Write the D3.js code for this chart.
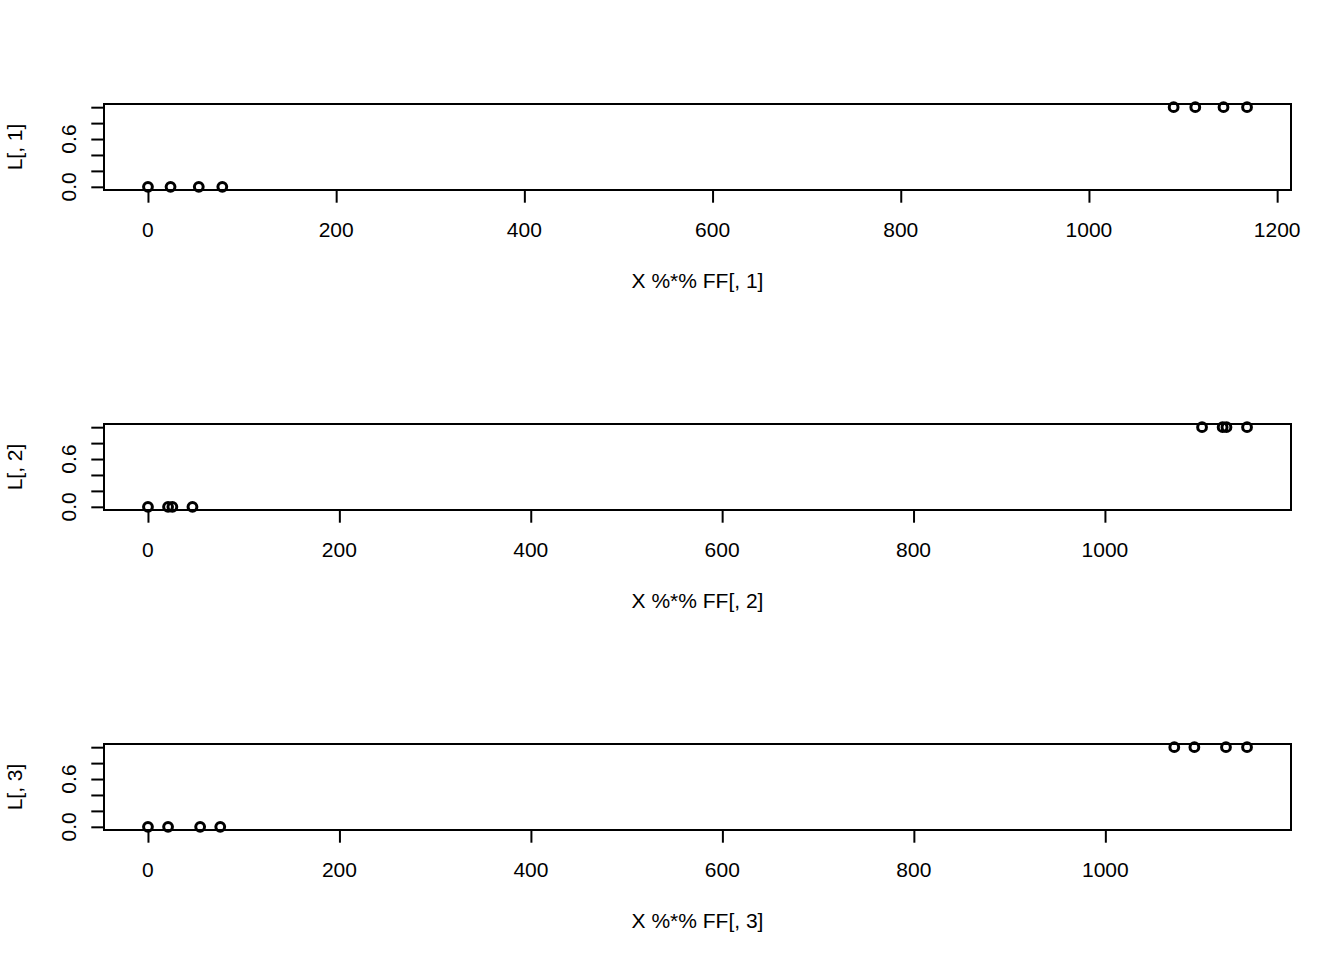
<!DOCTYPE html>
<html>
<head>
<meta charset="utf-8">
<script src="https://cdn.jsdelivr.net/npm/d3@7"></script>
<style>
	body { margin: 0; background: #fff; }
	svg text { font-family: "Liberation Sans", Arial, Helvetica, sans-serif; font-size: 21px; fill: #000; }
</style>
</head>
<body>
<svg id="chart" width="1344" height="960"></svg>
<script>
"use strict";

// x values of the three panels (X %*% FF[, k]) and the 0/1 labels L[, k]
var xv1 = [0, 24, 54, 79, 1090, 1113, 1143, 1168];
var xv2 = [0, 21, 25.5, 46.5, 1101.5, 1123, 1127, 1148.5];
var xv3 = [0, 21, 54.5, 75.5, 1072, 1093, 1126, 1148];
var lv1 = [0, 0, 0, 0, 1, 1, 1, 1];
var lv2 = [0, 0, 0, 0, 1, 1, 1, 1];
var lv3 = [0, 0, 0, 0, 1, 1, 1, 1];

var xticks1 = [0, 200, 400, 600, 800, 1000, 1200];
var xticks2 = [0, 200, 400, 600, 800, 1000];
var xticks3 = [0, 200, 400, 600, 800, 1000];
var yticks = [0, 0.2, 0.4, 0.6, 0.8, 1.0];
var ylabelsShown = ["0.0", "0.6"];

var xlabs = ["X %*% FF[, 1]", "X %*% FF[, 2]", "X %*% FF[, 3]"];
var ylabs = ["L[, 1]", "L[, 2]", "L[, 3]"];

var panels = [
	{ x: xv1, y: lv1, ticks: xticks1 },
	{ x: xv2, y: lv2, ticks: xticks2 },
	{ x: xv3, y: lv3, ticks: xticks3 }
];

var W = 1344, figH = 320;
var mar = { top: 104, right: 53, bottom: 130, left: 104 };
var tick = 12.7;

var svg = d3.select("#chart");

// R style 4% range extension
function rExtend(ext) {
	var r = ext[1] - ext[0];
	return [ext[0] - 0.04 * r, ext[1] + 0.04 * r];
}

function drawPanel(p, i) {
	var g = svg.append("g").attr("transform", "translate(0," + (i * figH) + ")");
	var x0 = mar.left, x1 = W - mar.right;
	var y0 = mar.top, y1 = figH - mar.bottom;

	var x = d3.scaleLinear().domain(rExtend(d3.extent(p.x))).range([x0, x1]);
	var y = d3.scaleLinear().domain(rExtend([0, 1])).range([y1, y0]);

	// box
	g.append("rect")
		.attr("x", x0).attr("y", y0)
		.attr("width", x1 - x0).attr("height", y1 - y0)
		.attr("fill", "none").attr("stroke", "#000").attr("stroke-width", 2);

	// x axis
	var xa = d3.axisBottom(x).tickValues(p.ticks).tickSize(tick).tickPadding(0).tickFormat("");
	var gx = g.append("g").attr("transform", "translate(0," + y1 + ")").call(xa);
	gx.select(".domain").remove();
	gx.selectAll(".tick line").attr("stroke", "#000").attr("stroke-width", 2);
	gx.append("line")
		.attr("x1", x(p.ticks[0])).attr("x2", x(p.ticks[p.ticks.length - 1]))
		.attr("y1", 0).attr("y2", 0)
		.attr("stroke", "#000").attr("stroke-width", 2);
	g.selectAll(".xtl").data(p.ticks).enter().append("text")
		.attr("class", "xtl")
		.attr("x", function(d) { return x(d); })
		.attr("y", y1 + 47)
		.attr("text-anchor", "middle")
		.text(function(d) { return d3.format("d")(d); });

	// y axis
	var ya = d3.axisLeft(y).tickValues(yticks).tickSize(tick).tickFormat("");
	var gy = g.append("g").attr("transform", "translate(" + x0 + ",0)").call(ya);
	gy.select(".domain").remove();
	gy.selectAll(".tick line").attr("stroke", "#000").attr("stroke-width", 2);
	gy.append("line")
		.attr("x1", 0).attr("x2", 0)
		.attr("y1", y(yticks[0])).attr("y2", y(yticks[yticks.length - 1]))
		.attr("stroke", "#000").attr("stroke-width", 2);
	g.selectAll(".ytl").data(yticks.filter(function(d) {
			return ylabelsShown.indexOf(d3.format(".1f")(d)) >= 0;
		})).enter().append("text")
		.attr("class", "ytl")
		.attr("text-anchor", "middle")
		.attr("transform", function(d) { return "translate(" + (x0 - 28) + "," + y(d) + ") rotate(-90)"; })
		.text(function(d) { return d3.format(".1f")(d); });

	// axis titles
	g.append("text")
		.attr("x", (x0 + x1) / 2).attr("y", y1 + 98)
		.attr("text-anchor", "middle")
		.text(xlabs[i]);
	g.append("text")
		.attr("text-anchor", "middle")
		.attr("transform", "translate(" + (x0 - 82) + "," + ((y0 + y1) / 2) + ") rotate(-90)")
		.text(ylabs[i]);

	// points
	g.selectAll(".pt").data(d3.range(p.x.length)).enter().append("circle")
		.attr("class", "pt")
		.attr("cx", function(j) { return x(p.x[j]); })
		.attr("cy", function(j) { return y(p.y[j]); })
		.attr("r", 4.4)
		.attr("fill", "none").attr("stroke", "#000").attr("stroke-width", 3);
}

panels.forEach(drawPanel);
</script>
</body>
</html>
